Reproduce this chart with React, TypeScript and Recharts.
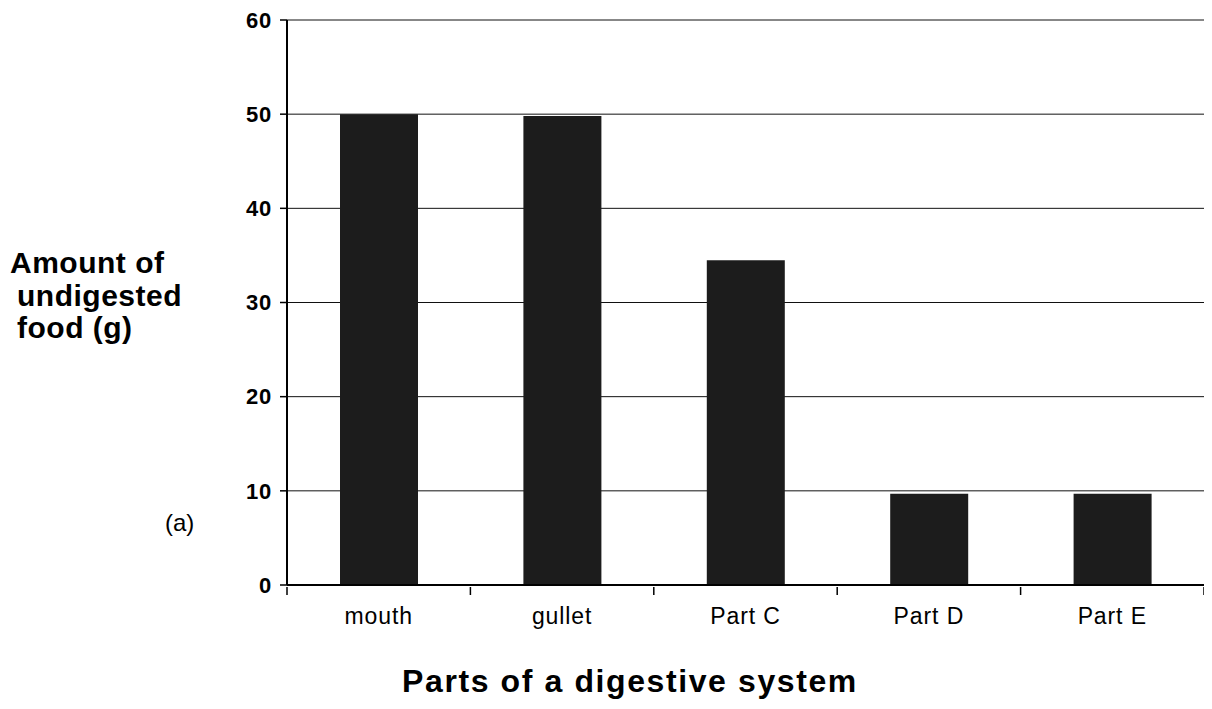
import React from 'react';
import { BarChart, Bar, XAxis, YAxis, CartesianGrid } from 'recharts';

const parts = ['mouth', 'gullet', 'Part C', 'Part D', 'Part E'];
const undigested = [50, 49.8, 34.5, 9.7, 9.7];
const yTicks = [0, 10, 20, 30, 40, 50, 60];

const data = parts.map((name, i) => ({ name, value: undigested[i] }));

const FONT = 'Arial, "Liberation Sans", Helvetica, sans-serif';

// label under the band centre, tick marks on the band edges (Excel style)
const PartTick = (props: any) => {
  const { x, y, payload, index, width, visibleTicksCount } = props;
  const half = payload.offset ?? width / (visibleTicksCount || parts.length) / 2;
  const last = index === (visibleTicksCount || parts.length) - 1;
  return (
    <g>
      <line x1={x - half} x2={x - half} y1={y} y2={y + 8} stroke="#000" strokeWidth={1.5} />
      {last && <line x1={x + half} x2={x + half} y1={y} y2={y + 8} stroke="#000" strokeWidth={1.5} />}
      <text x={x} y={y + 37} textAnchor="middle" fontFamily={FONT} fontSize={23} fill="#000" letterSpacing={0.9}>
        {payload.value}
      </text>
    </g>
  );
};

const YTitle = () => (
  <g fontFamily={FONT} fill="#000">
    <text x={2} y={265} fontSize={30} fontWeight="bold" letterSpacing={0.5}>
      <tspan x={2} dy={0}>Amount of</tspan>
      <tspan x={9} dy={33}>undigested</tspan>
      <tspan x={9} dy={32}>food (g)</tspan>
    </text>
    <text x={157} y={523} fontSize={24}>(a)</text>
  </g>
);

const XTitle = () => (
  <text x={622} y={684} textAnchor="middle" fontFamily={FONT} fontSize={32} fontWeight="bold" fill="#000" letterSpacing={1.6}>
    Parts of a digestive system
  </text>
);

export default function App() {
  return (
    <div style={{ width: 1196, height: 693, background: '#fff' }}>
      <BarChart width={1196} height={693} data={data} margin={{ top: 12, right: 0, bottom: 0, left: 0 }}>
        <CartesianGrid vertical={false} stroke="#111" strokeWidth={1} />
        <XAxis
          dataKey="name"
          height={116}
          axisLine={{ stroke: '#000', strokeWidth: 2 }}
          tickLine={false}
          tickSize={0}
          tick={PartTick}
          interval={0}
          label={{ content: XTitle }}
        />
        <YAxis
          width={279}
          domain={[0, 60]}
          ticks={yTicks}
          interval={0}
          axisLine={{ stroke: '#000', strokeWidth: 2 }}
          tickLine={{ stroke: '#000', strokeWidth: 1.5 }}
          tickSize={7}
          tickMargin={8}
          tick={{ fontFamily: FONT, fontSize: 22, fontWeight: 'bold', fill: '#000', letterSpacing: 0.8 }}
          label={{ content: YTitle }}
        />
        <Bar dataKey="value" fill="#1c1c1c" barSize={78} isAnimationActive={false} />
      </BarChart>
    </div>
  );
}
